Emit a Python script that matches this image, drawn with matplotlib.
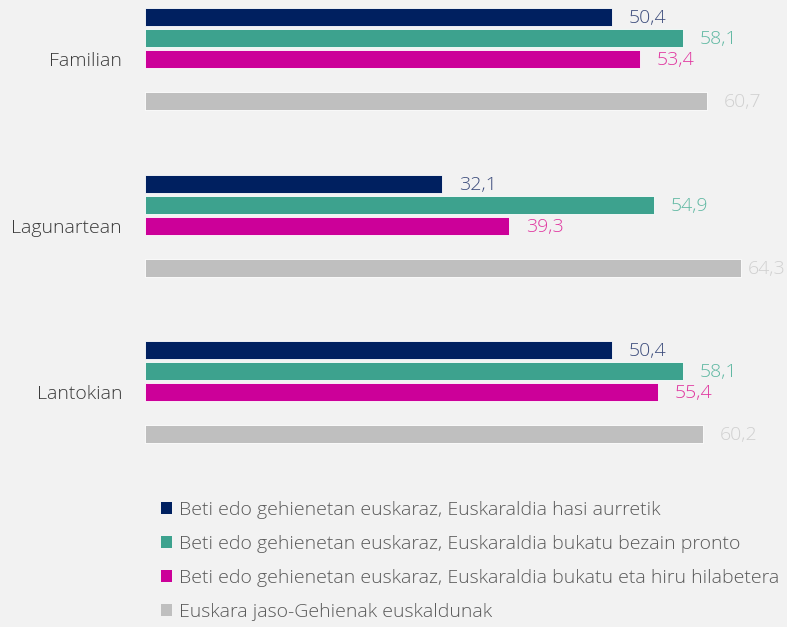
import matplotlib
matplotlib.use("Agg")
import matplotlib.pyplot as plt
from matplotlib.patches import Patch

plt.rcParams["font.family"] = ["Open Sans", "DejaVu Sans"]
plt.rcParams["font.weight"] = "light"

categories = ["Familian", "Lagunartean", "Lantokian"]
series_labels = [
    "Beti edo gehienetan euskaraz, Euskaraldia hasi aurretik",
    "Beti edo gehienetan euskaraz, Euskaraldia bukatu bezain pronto",
    "Beti edo gehienetan euskaraz, Euskaraldia bukatu eta hiru hilabetera",
    "Euskara jaso-Gehienak euskaldunak",
]
hasi_aurretik = [50.4, 32.1, 50.4]
bukatu_pronto = [58.1, 54.9, 58.1]
hiru_hilabetera = [53.4, 39.3, 55.4]
euskaldunak = [60.7, 64.3, 60.2]

series = [hasi_aurretik, bukatu_pronto, hiru_hilabetera, euskaldunak]
bar_colors = ["#002060", "#3da28e", "#cc0099", "#bfbfbf"]
text_colors = ["#3c4c7c", "#5fb8a2", "#e0359f", "#d0d0d0"]
slot_offsets = [0, 1, 2, 4]
group_step = 7.93
bg = "#f2f2f2"

fig = plt.figure(figsize=(7.87, 6.27), dpi=100)
fig.patch.set_facecolor(bg)
ax = fig.add_axes([145 / 787, 0, 1 - 145 / 787, 1])
ax.set_facecolor(bg)

for s, (vals, bc, tc, off) in enumerate(zip(series, bar_colors, text_colors, slot_offsets)):
    ys = [g * group_step + off for g in range(len(categories))]
    ax.barh(ys, vals, height=0.86, color=bc, edgecolor="white", linewidth=0.6,
            label=series_labels[s])
    for y, v in zip(ys, vals):
        # labels that would run past the edge sit closer to the bar
        gap = 5 if v > 63 else 12
        ax.annotate(f"{v:.1f}".replace(".", ","), (v, y), xytext=(gap, -1),
                    textcoords="offset points", ha="left", va="center",
                    fontsize=14, color=tc)

ax.set_xlim(0, 642 / 9.266)
ax.set_ylim(610 / 21, -17 / 21)
ax.set_yticks([g * group_step + 2 for g in range(len(categories))])
ax.set_yticklabels(categories, fontsize=14, color="#3a3a3a")
ax.tick_params(axis="y", length=0, pad=16.5)
ax.set_xticks([])
for sp in ax.spines.values():
    sp.set_visible(False)

handles = [Patch(facecolor=c, edgecolor="none") for c in bar_colors]
leg = fig.legend(handles, series_labels, loc="upper left",
                 bbox_to_anchor=(153 / 787, 1 - 493 / 627), frameon=False,
                 fontsize=14, handlelength=0.6, handleheight=0.6,
                 handletextpad=0.35, labelspacing=0.82, borderaxespad=0)
for t in leg.get_texts():
    t.set_color("#595959")

fig.savefig("out.png", dpi=100, facecolor=bg)
